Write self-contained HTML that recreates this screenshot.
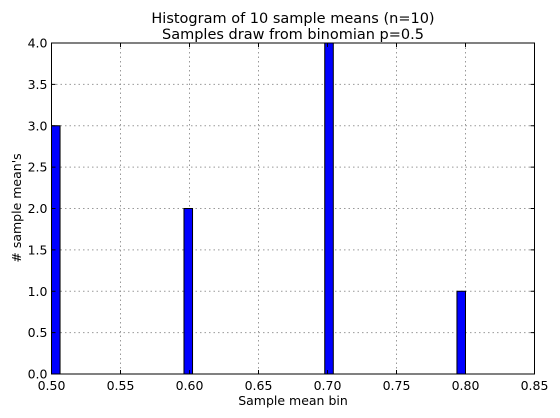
<!DOCTYPE html>
<html><head><meta charset="utf-8"><style>
body{margin:0;background:#fff;}
svg{display:block;font-family:"DejaVu Sans","Liberation Sans",sans-serif;}
</style></head><body>
<svg id="chart" width="560" height="418"></svg>
<script>
const binLefts=[0.5,0.596,0.698,0.7938];
const counts=[3,2,4,1];
const binWidth=0.0062;
const xTicks=[0.50,0.55,0.60,0.65,0.70,0.75,0.80,0.85];
const yTicks=[0.0,0.5,1.0,1.5,2.0,2.5,3.0,3.5,4.0];
const L=51.5,R=534.5,T=43,B=374;
const xs=v=>L+(v-0.5)/(0.35)*(R-L);
const ys=v=>B-v/4*(B-T);
const svg=document.getElementById('chart');
const NS='http://www.w3.org/2000/svg';
function mk(t,a,p){const e=document.createElementNS(NS,t);for(const k in a)e.setAttribute(k,a[k]);(p||svg).appendChild(e);return e;}
xTicks.forEach((v,i)=>{if(i>0&&i<xTicks.length-1){const g=mk('line',{x1:xs(v),x2:xs(v),y1:T,y2:B,stroke:'#999','stroke-dasharray':'1.5,3','stroke-width':1});

}});
yTicks.forEach((v,i)=>{if(i>0&&i<yTicks.length-1){const g=mk('line',{x1:L,x2:R,y1:ys(v),y2:ys(v),stroke:'#999','stroke-dasharray':'1.5,3','stroke-width':1});

}});
binLefts.forEach((b,i)=>{const r=mk('rect',{x:xs(b),y:ys(counts[i]),width:xs(b+binWidth)-xs(b),height:B-ys(counts[i]),fill:'#0000ff',stroke:'#000','stroke-width':1});

});
const f=mk('rect',{x:L,y:T,width:R-L,height:B-T,fill:'none',stroke:'#000','stroke-width':1});


xTicks.forEach(v=>{mk('line',{x1:xs(v),x2:xs(v),y1:B,y2:B-4,stroke:'#000'});mk('line',{x1:xs(v),x2:xs(v),y1:T,y2:T+4,stroke:'#000'});
const t=mk('text',{x:xs(v),y:B+16,'text-anchor':'middle','font-size':12.5});t.textContent=v.toFixed(2);

});
yTicks.forEach(v=>{mk('line',{x1:L,x2:L+4,y1:ys(v),y2:ys(v),stroke:'#000'});mk('line',{x1:R,x2:R-4,y1:ys(v),y2:ys(v),stroke:'#000'});
const t=mk('text',{x:L-4,y:ys(v)+4.5,'text-anchor':'end','font-size':12.5});t.textContent=v.toFixed(1);

});
</script>
<svg width="560" height="418" style="position:absolute;left:0;top:0" font-family="DejaVu Sans, Liberation Sans, sans-serif">
<text x="293" y="23" text-anchor="middle" font-size="14.5">Histogram of 10 sample means (n=10)</text>
<text x="293" y="39" text-anchor="middle" font-size="14.5">Samples draw from binomian p=0.5</text>
<text x="293" y="405" text-anchor="middle" font-size="12.5">Sample mean bin</text>
<text x="21" y="208" text-anchor="middle" font-size="12.5" transform="rotate(-90 21 208)"># sample mean's</text>
</svg>
</body></html>
